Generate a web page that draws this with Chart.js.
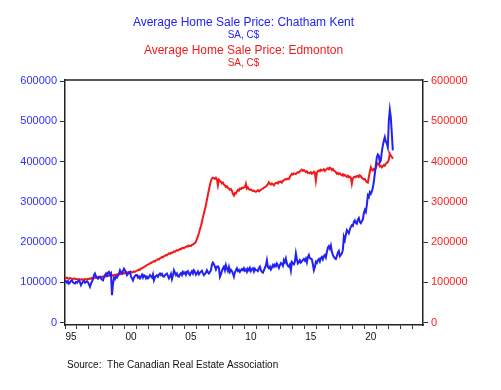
<!DOCTYPE html>
<html>
<head>
<meta charset="utf-8">
<script src="https://cdn.jsdelivr.net/npm/chart.js@4.4.1/dist/chart.umd.min.js"></script>
<style>
  html, body { margin: 0; padding: 0; background: #fff; }
  #wrap { width: 501px; height: 390px; }
</style>
</head>
<body>
<div id="wrap"><canvas id="chart"></canvas></div>
<script>
// Monthly data starting January 1995, values in thousands of C$
const startYear = 1995;

const chathamKent = [
  105,102,99,103,97,100,104,105,100,98,97,101,
  99,103,105,100,93,98,102,104,99,101,103,100,
  95,89,97,102,108,118,122,115,111,109,113,114,
  110,107,105,112,118,122,117,124,126,120,123,68,
  96,111,108,114,112,118,121,130,125,122,128,134,
  130,126,118,121,124,126,115,110,105,112,116,118,
  118,112,115,110,114,119,112,118,116,110,114,110,
  113,118,115,112,120,105,112,116,118,114,119,122,
  118,121,115,114,118,120,122,116,110,115,121,108,
  117,130,124,118,122,115,114,120,123,118,126,122,
  125,119,126,128,121,118,124,128,122,130,126,119,
  122,127,120,124,126,129,123,118,121,124,130,125,
  122,126,130,144,149,145,139,132,139,140,136,114,
  120,128,135,139,130,143,134,128,138,126,131,128,
  122,114,125,130,135,128,131,126,130,133,130,135,
  129,132,126,134,130,136,128,133,135,127,134,130,
  130,128,135,139,130,126,124,130,136,142,155,138,
  135,139,132,137,143,139,144,140,147,142,136,143,
  148,146,141,155,150,159,147,141,139,144,130,151,
  148,145,151,172,158,147,150,155,149,152,155,158,
  154,159,150,163,168,160,159,157,145,130,138,151,
  148,155,158,152,160,163,157,165,168,162,175,186,
  190,184,192,176,168,163,160,158,165,174,178,165,
  168,172,180,213,205,218,230,226,222,232,238,242,
  240,250,254,248,246,256,260,250,247,252,256,271,
  280,275,292,316,312,324,320,326,335,350,370,390,
  411,418,415,398,403,425,440,452,461,450,446,436,
  502,529,510,469,428
];

const edmonton = [
  110,111,112,110,109,111,110,108,109,110,108,109,
  108,107,108,106,107,108,106,107,108,107,108,109,
  108,110,109,111,110,112,111,112,113,112,114,113,
  114,113,115,114,116,115,116,117,116,118,117,116,
  118,117,119,118,120,119,121,120,122,121,123,122,
  124,123,125,124,126,125,124,126,125,127,126,128,
  129,130,132,131,134,135,137,138,140,141,143,144,
  146,147,148,150,151,153,152,155,156,158,157,160,
  161,163,162,165,166,168,167,170,172,171,174,173,
  175,177,176,178,180,179,181,183,182,185,186,185,
  187,188,190,189,192,191,190,193,194,196,198,201,
  208,215,222,232,240,250,262,272,282,292,305,318,
  330,342,352,358,360,359,357,360,356,341,355,352,
  350,346,348,343,341,337,339,335,333,330,332,328,
  320,316,322,321,326,330,328,333,332,335,334,336,
  337,345,333,336,332,330,331,329,327,328,326,325,
  327,329,326,328,330,332,333,335,337,338,341,344,
  349,345,343,346,344,341,345,347,348,346,350,349,
  351,348,352,354,355,357,356,358,357,362,366,370,
  368,371,370,369,372,374,373,376,378,380,377,379,
  377,374,376,372,373,371,374,370,372,375,373,353,
  372,377,378,376,380,378,379,381,377,380,382,384,
  381,385,383,379,382,378,376,374,370,372,369,371,
  368,366,369,365,367,364,362,365,361,363,360,345,
  358,362,363,361,364,365,362,366,364,360,358,356,
  357,352,349,348,362,375,386,380,378,382,380,384,
  392,396,394,388,390,386,389,392,390,395,397,399,
  405,420,415,412,407
];

const seriesNames = ["Average Home Sale Price: Chatham Kent", "Average Home Sale Price: Edmonton"];
const units = "SA, C$";
const sourceNote = "Source:  The Canadian Real Estate Association";
const yTicks = [0, 100000, 200000, 300000, 400000, 500000, 600000];
const xLabelYears = [1995, 2000, 2005, 2010, 2015, 2020];
const xRange = [1995, 2024.85];

const blue = '#2222f2';
const red = '#f21b1b';
const font = '"Liberation Sans", Arial, sans-serif';

function toPoints(values) {
  return values.map((v, i) => ({ x: startYear + i / 12, y: v * 1000 }));
}

// Header, source note and the top frame line
const textPlugin = {
  id: 'texts',
  afterDraw(chart) {
    const ctx = chart.ctx;
    const area = chart.chartArea;
    ctx.save();
    ctx.strokeStyle = '#222';
    ctx.lineWidth = 1.5;
    ctx.beginPath();
    ctx.moveTo(area.left, area.top);
    ctx.lineTo(area.right, area.top);
    ctx.stroke();

    ctx.textAlign = 'center';
    ctx.textBaseline = 'middle';
    const cx = 243.5;
    ctx.fillStyle = blue;
    ctx.font = '12px ' + font;
    ctx.fillText(seriesNames[0], cx, 23);
    ctx.font = '10px ' + font;
    ctx.fillText(units, cx, 35);
    ctx.fillStyle = red;
    ctx.font = '12px ' + font;
    ctx.fillText(seriesNames[1], cx, 51);
    ctx.font = '10px ' + font;
    ctx.fillText(units, cx, 63);

    ctx.textAlign = 'left';
    ctx.fillStyle = '#111';
    ctx.fillText(sourceNote, 67, 365);
    ctx.restore();
  }
};

function yAxis(position, color, width) {
  return {
    type: 'linear',
    position: position,
    min: -6000,
    max: 603000,
    afterFit: s => { s.width = width; },
    afterBuildTicks: s => { s.ticks = yTicks.map(v => ({ value: v })); },
    ticks: {
      color: color,
      font: { size: 11, family: font },
      padding: 3,
      callback: v => String(v)
    },
    grid: { drawOnChartArea: false, tickLength: 5, color: '#333' },
    border: { color: '#222', width: 1.5 }
  };
}

new Chart(document.getElementById('chart'), {
  type: 'line',
  data: {
    datasets: [
      {
        label: seriesNames[0],
        data: toPoints(chathamKent),
        borderColor: blue,
        borderWidth: 2,
        pointRadius: 0,
        yAxisID: 'y'
      },
      {
        label: seriesNames[1],
        data: toPoints(edmonton),
        borderColor: red,
        borderWidth: 2,
        pointRadius: 0,
        yAxisID: 'y2'
      }
    ]
  },
  options: {
    responsive: true,
    maintainAspectRatio: false,
    animation: false,
    layout: { padding: { top: 80, left: 0, right: 0, bottom: 0 } },
    plugins: { legend: { display: false }, tooltip: { enabled: false } },
    scales: {
      x: {
        type: 'linear',
        min: xRange[0],
        max: xRange[1],
        afterFit: s => { s.height = 65; },
        afterBuildTicks: s => {
          const ticks = [];
          for (let yr = xRange[0]; yr <= xRange[1]; yr++) ticks.push({ value: yr });
          s.ticks = ticks;
        },
        ticks: {
          autoSkip: false,
          maxRotation: 0,
          padding: 2,
          labelOffset: 6,
          color: '#111',
          font: { size: 10, family: font },
          callback: v => xLabelYears.includes(v) ? String(v).slice(2) : ''
        },
        grid: { drawOnChartArea: false, tickLength: 4, color: '#333' },
        border: { color: '#222', width: 1.5 }
      },
      y: yAxis('left', '#3030ff', 65),
      y2: yAxis('right', '#ff2020', 78)
    }
  },
  plugins: [textPlugin]
});
</script>
</body>
</html>
